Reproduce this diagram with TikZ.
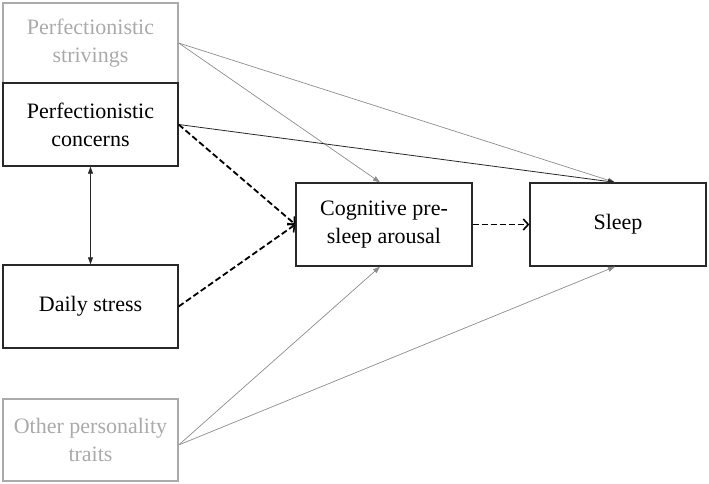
\documentclass[tikz,border=0pt]{standalone}
\usepackage{fontspec}
\setmainfont{Liberation Serif}
\newfontfamily\tnr{Liberation Serif}
\usetikzlibrary{arrows.meta}
\definecolor{lightgr}{RGB}{170,170,170}
\definecolor{linegr}{RGB}{140,140,140}
\definecolor{boxblk}{RGB}{40,40,40}
\begin{document}
\begin{tikzpicture}[x=1pt,y=-1pt,
  box/.style={draw=boxblk,line width=1.3pt,minimum width=175pt,minimum height=82pt,align=center,inner sep=0pt,font=\tnr\fontsize{22}{28}\selectfont,text=black},
  graybox/.style={box,draw=lightgr,text=lightgr},
  grayarrow/.style={draw=linegr,line width=0.7pt,-{Triangle[length=7pt,width=5pt]},color=linegr},
  blackarrow/.style={draw=boxblk,line width=0.8pt,-{Triangle[length=7pt,width=5pt]}},
  dasharrow/.style={draw=black,line width=1.8pt,dash pattern=on 6pt off 3pt,-{Straight Barb[length=5pt,width=11pt,line width=1.6pt]}},
  dbl/.style={draw=boxblk,line width=0.8pt,{Triangle[length=7pt,width=5pt]}-{Triangle[length=7pt,width=5pt]}}
]
\useasboundingbox (0,0) rectangle (709,484);
\node[graybox,minimum height=80pt] (striv) at (90.5,43) {Perfectionistic\\strivings};
\node[box,minimum height=83pt] (conc) at (90.5,124.5) {Perfectionistic\\concerns};
\node[box,minimum height=83pt] (daily) at (90.5,306.5) {Daily stress};
\node[graybox] (other) at (90.5,440) {Other personality\\traits};
\node[box,minimum width=176pt,minimum height=83pt] (cog) at (384,224.5) {Cognitive pre-\\sleep arousal};
\node[box,minimum width=176pt,minimum height=83pt] (sleep) at (618,224.5) {Sleep};
\draw[grayarrow] (striv.east) -- ([xshift=-4pt]cog.north);
\draw[grayarrow] (striv.east) -- ([xshift=-3pt]sleep.north);
\draw[blackarrow] (conc.east) -- ([xshift=-3pt]sleep.north);
\draw[grayarrow] ([yshift=-5pt]other.east) -- ([xshift=-4pt]cog.south);
\draw[grayarrow] ([yshift=-5pt]other.east) -- ([xshift=-3pt]sleep.south);
\draw[dasharrow] (conc.east) -- (cog.west);
\draw[dasharrow] (daily.east) -- (cog.west);
\draw[dasharrow] (cog.east) -- (sleep.west);
\draw[dbl] (conc.south) -- (daily.north);
\end{tikzpicture}
\end{document}
